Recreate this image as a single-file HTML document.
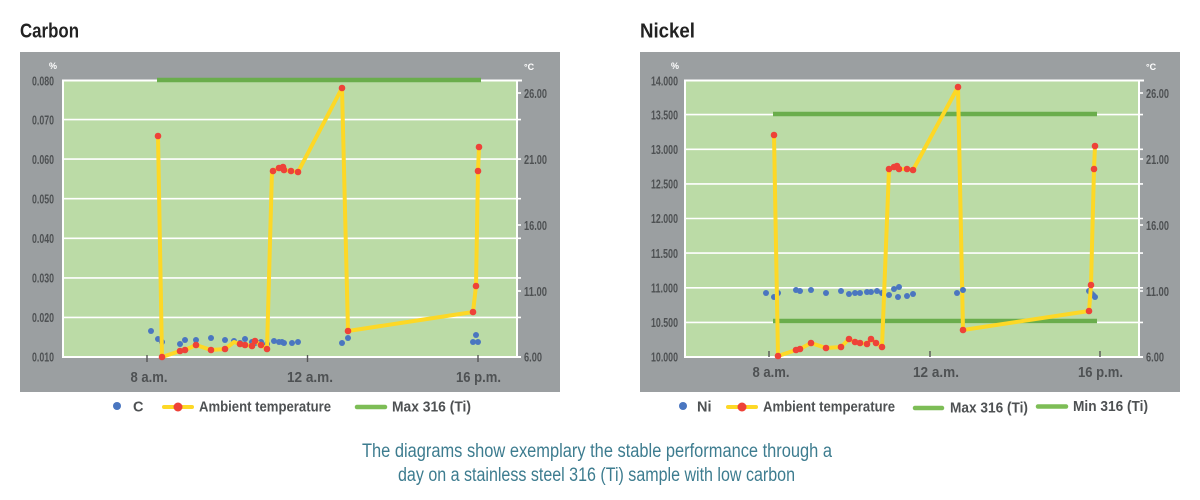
<!DOCTYPE html>
<html><head><meta charset="utf-8"><style>
html,body{margin:0;padding:0;background:#fff;}
svg{display:block;}
text{font-family:"Liberation Sans Narrow","Liberation Sans",sans-serif;font-weight:bold;}
</style></head><body>
<svg width="1200" height="500" viewBox="0 0 1200 500" xmlns="http://www.w3.org/2000/svg">
<rect width="1200" height="500" fill="#fff"/>

<!-- ============ LEFT: CARBON ============ -->
<text x="20" y="37.5" font-size="20" fill="#222" textLength="59" lengthAdjust="spacingAndGlyphs">Carbon</text>
<rect x="20" y="52" width="540" height="340" fill="#9b9fa1"/>
<rect x="63" y="80" width="453" height="277" fill="#bbdba6"/>
<g stroke="#fff" stroke-width="1.6">
<line x1="63" y1="317.4" x2="521" y2="317.4"/>
<line x1="63" y1="277.9" x2="521" y2="277.9"/>
<line x1="63" y1="238.3" x2="521" y2="238.3"/>
<line x1="63" y1="198.7" x2="521" y2="198.7"/>
<line x1="63" y1="159.1" x2="521" y2="159.1"/>
<line x1="63" y1="119.6" x2="521" y2="119.6"/>
<line x1="516" y1="93" x2="521" y2="93"/>
<line x1="516" y1="225" x2="521" y2="225"/>
<line x1="516" y1="291" x2="521" y2="291"/>
</g>
<g stroke="#fff" stroke-width="2" fill="none">
<polyline points="63,357 63,80.5 522,80.5"/>
<line x1="62" y1="357" x2="521" y2="357"/>
<line x1="517" y1="80" x2="517" y2="358"/>
</g>
<g stroke="#555" stroke-width="1.4">
<line x1="147" y1="355" x2="147" y2="362"/>
<line x1="307.5" y1="355" x2="307.5" y2="362"/>
<line x1="478" y1="355" x2="478" y2="362"/>
</g>
<line x1="157" y1="80" x2="481" y2="80" stroke="#6aad4c" stroke-width="4.5"/>
<g font-size="12.5" fill="#4e5153">
<text x="32" y="85.5" textLength="22" lengthAdjust="spacingAndGlyphs">0.080</text>
<text x="32" y="124.5" textLength="22" lengthAdjust="spacingAndGlyphs">0.070</text>
<text x="32" y="164" textLength="22" lengthAdjust="spacingAndGlyphs">0.060</text>
<text x="32" y="203.5" textLength="22" lengthAdjust="spacingAndGlyphs">0.050</text>
<text x="32" y="243" textLength="22" lengthAdjust="spacingAndGlyphs">0.040</text>
<text x="32" y="282.5" textLength="22" lengthAdjust="spacingAndGlyphs">0.030</text>
<text x="32" y="322" textLength="22" lengthAdjust="spacingAndGlyphs">0.020</text>
<text x="32" y="361.5" textLength="22" lengthAdjust="spacingAndGlyphs">0.010</text>
</g>
<g font-size="12.5" fill="#4e5153">
<text x="524" y="98" textLength="23" lengthAdjust="spacingAndGlyphs">26.00</text>
<text x="524" y="164" textLength="23" lengthAdjust="spacingAndGlyphs">21.00</text>
<text x="524" y="230" textLength="23" lengthAdjust="spacingAndGlyphs">16.00</text>
<text x="524" y="296" textLength="23" lengthAdjust="spacingAndGlyphs">11.00</text>
<text x="524" y="361.5" textLength="18" lengthAdjust="spacingAndGlyphs">6.00</text>
</g>
<text x="49" y="69" font-size="9" fill="#fff">%</text>
<text x="524" y="70" font-size="9" fill="#fff">°C</text>
<g font-size="14.5" fill="#4e5153">
<text x="130.5" y="382" textLength="37" lengthAdjust="spacingAndGlyphs">8 a.m.</text>
<text x="287" y="382" textLength="46" lengthAdjust="spacingAndGlyphs">12 a.m.</text>
<text x="456" y="382" textLength="45" lengthAdjust="spacingAndGlyphs">16 p.m.</text>
</g>
<g fill="#4a76c0">
<circle cx="151" cy="331" r="3"/><circle cx="158" cy="339" r="3"/><circle cx="162" cy="342" r="3"/>
<circle cx="180" cy="344" r="3"/><circle cx="185" cy="340" r="3"/><circle cx="196" cy="340" r="3"/>
<circle cx="211" cy="338" r="3"/><circle cx="225" cy="340" r="3"/><circle cx="234" cy="341" r="3"/>
<circle cx="240" cy="343" r="3"/><circle cx="245" cy="339" r="3"/><circle cx="252" cy="342" r="3"/>
<circle cx="253" cy="343" r="3"/><circle cx="255" cy="343" r="3"/><circle cx="261" cy="342" r="3"/>
<circle cx="267" cy="344" r="3"/><circle cx="274" cy="341" r="3"/><circle cx="279" cy="342" r="3"/>
<circle cx="282" cy="342" r="3"/><circle cx="284" cy="343" r="3"/><circle cx="292" cy="343" r="3"/>
<circle cx="298" cy="342" r="3"/><circle cx="342" cy="343" r="3"/><circle cx="348" cy="338" r="3"/>
<circle cx="473" cy="342" r="3"/><circle cx="476" cy="335" r="3"/><circle cx="478" cy="342" r="3"/>
</g>
<polyline fill="none" stroke="#fdd826" stroke-width="4" stroke-linejoin="round" points="158,136 162,357 180,351 185,350 196,345 211,350 225,349 234,342 240,344 245,345 252,346 255,341 261,345 267,349 272,171 277,169 281,168 284,170 291,171 298,172 342,88 348,331 473,312 476,286 478,171 479,147"/>
<g fill="#ee4238">
<circle cx="158" cy="136" r="3.3"/><circle cx="162" cy="357" r="3.3"/><circle cx="180" cy="351" r="3.3"/>
<circle cx="185" cy="350" r="3.3"/><circle cx="196" cy="345" r="3.3"/><circle cx="211" cy="350" r="3.3"/>
<circle cx="225" cy="349" r="3.3"/><circle cx="240" cy="344" r="3.3"/><circle cx="245" cy="345" r="3.3"/>
<circle cx="252" cy="346" r="3.3"/><circle cx="255" cy="341" r="3.3"/><circle cx="261" cy="345" r="3.3"/>
<circle cx="267" cy="349" r="3.3"/><circle cx="273" cy="171" r="3.3"/><circle cx="279" cy="168" r="3.3"/>
<circle cx="283" cy="167" r="3.3"/><circle cx="284" cy="170" r="3.3"/><circle cx="291" cy="171" r="3.3"/>
<circle cx="298" cy="172" r="3.3"/><circle cx="342" cy="88" r="3.3"/><circle cx="348" cy="331" r="3.3"/>
<circle cx="473" cy="312" r="3.3"/><circle cx="476" cy="286" r="3.3"/><circle cx="478" cy="171" r="3.3"/>
<circle cx="479" cy="147" r="3.3"/>
</g>
<!-- legend left -->
<circle cx="117" cy="406" r="4" fill="#4a76c0"/>
<text x="133" y="411.5" font-size="14.5" fill="#4e5153">C</text>
<line x1="164" y1="407" x2="192" y2="407" stroke="#fdd826" stroke-width="4" stroke-linecap="round"/>
<circle cx="178" cy="407" r="4.5" fill="#ee4238"/>
<text x="199" y="411.5" font-size="14.5" fill="#4e5153" textLength="132" lengthAdjust="spacingAndGlyphs">Ambient temperature</text>
<line x1="357" y1="407" x2="385" y2="407" stroke="#7dbd56" stroke-width="4.5" stroke-linecap="round"/>
<text x="392" y="411.5" font-size="14.5" fill="#4e5153" textLength="79" lengthAdjust="spacingAndGlyphs">Max 316 (Ti)</text>

<!-- ============ RIGHT: NICKEL ============ -->
<text x="640" y="37.5" font-size="20" fill="#222" textLength="55" lengthAdjust="spacingAndGlyphs">Nickel</text>
<rect x="640" y="52" width="540" height="340" fill="#9b9fa1"/>
<rect x="685" y="80" width="453" height="277" fill="#bbdba6"/>
<g stroke="#fff" stroke-width="1.6">
<line x1="685" y1="322.4" x2="1143" y2="322.4"/>
<line x1="685" y1="287.8" x2="1143" y2="287.8"/>
<line x1="685" y1="253.1" x2="1143" y2="253.1"/>
<line x1="685" y1="218.5" x2="1143" y2="218.5"/>
<line x1="685" y1="183.9" x2="1143" y2="183.9"/>
<line x1="685" y1="149.3" x2="1143" y2="149.3"/>
<line x1="685" y1="114.6" x2="1143" y2="114.6"/>
<line x1="1138" y1="93" x2="1143" y2="93"/>
<line x1="1138" y1="159" x2="1143" y2="159"/>
<line x1="1138" y1="225" x2="1143" y2="225"/>
<line x1="1138" y1="291" x2="1143" y2="291"/>
</g>
<g stroke="#fff" stroke-width="2" fill="none">
<polyline points="685,357 685,80.5 1144,80.5"/>
<line x1="684" y1="357" x2="1143" y2="357"/>
<line x1="1139" y1="80" x2="1139" y2="358"/>
</g>
<g stroke="#555" stroke-width="1.4">
<line x1="769" y1="351" x2="769" y2="357"/>
<line x1="930" y1="351" x2="930" y2="357"/>
<line x1="1100" y1="351" x2="1100" y2="357"/>
</g>
<line x1="773" y1="114" x2="1097" y2="114" stroke="#6aad4c" stroke-width="4.5"/>
<line x1="773" y1="321" x2="1097" y2="321" stroke="#6aad4c" stroke-width="4.5"/>
<g font-size="12.5" fill="#4e5153">
<text x="651" y="85.5" textLength="27" lengthAdjust="spacingAndGlyphs">14.000</text>
<text x="651" y="119.5" textLength="27" lengthAdjust="spacingAndGlyphs">13.500</text>
<text x="651" y="154" textLength="27" lengthAdjust="spacingAndGlyphs">13.000</text>
<text x="651" y="188.5" textLength="27" lengthAdjust="spacingAndGlyphs">12.500</text>
<text x="651" y="223" textLength="27" lengthAdjust="spacingAndGlyphs">12.000</text>
<text x="651" y="258" textLength="27" lengthAdjust="spacingAndGlyphs">11.500</text>
<text x="651" y="292.5" textLength="27" lengthAdjust="spacingAndGlyphs">11.000</text>
<text x="651" y="327" textLength="27" lengthAdjust="spacingAndGlyphs">10.500</text>
<text x="651" y="361.5" textLength="27" lengthAdjust="spacingAndGlyphs">10.000</text>
</g>
<g font-size="12.5" fill="#4e5153">
<text x="1146" y="98" textLength="23" lengthAdjust="spacingAndGlyphs">26.00</text>
<text x="1146" y="164" textLength="23" lengthAdjust="spacingAndGlyphs">21.00</text>
<text x="1146" y="230" textLength="23" lengthAdjust="spacingAndGlyphs">16.00</text>
<text x="1146" y="296" textLength="23" lengthAdjust="spacingAndGlyphs">11.00</text>
<text x="1146" y="361.5" textLength="18" lengthAdjust="spacingAndGlyphs">6.00</text>
</g>
<text x="671" y="69" font-size="9" fill="#fff">%</text>
<text x="1146" y="70" font-size="9" fill="#fff">°C</text>
<g font-size="14.5" fill="#4e5153">
<text x="752.5" y="377" textLength="37" lengthAdjust="spacingAndGlyphs">8 a.m.</text>
<text x="913" y="377" textLength="46" lengthAdjust="spacingAndGlyphs">12 a.m.</text>
<text x="1078" y="377" textLength="45" lengthAdjust="spacingAndGlyphs">16 p.m.</text>
</g>
<g fill="#4a76c0">
<circle cx="766" cy="293" r="3"/><circle cx="774" cy="297" r="3"/><circle cx="778" cy="293" r="3"/>
<circle cx="796" cy="290" r="3"/><circle cx="800" cy="291" r="3"/><circle cx="811" cy="290" r="3"/>
<circle cx="826" cy="293" r="3"/><circle cx="841" cy="291" r="3"/><circle cx="849" cy="294" r="3"/>
<circle cx="855" cy="293" r="3"/><circle cx="860" cy="293" r="3"/><circle cx="867" cy="292" r="3"/>
<circle cx="871" cy="292" r="3"/><circle cx="877" cy="291" r="3"/><circle cx="882" cy="293" r="3"/>
<circle cx="889" cy="295" r="3"/><circle cx="894" cy="289" r="3"/><circle cx="899" cy="287" r="3"/>
<circle cx="898" cy="297" r="3"/><circle cx="907" cy="296" r="3"/><circle cx="913" cy="294" r="3"/>
<circle cx="957" cy="293" r="3"/><circle cx="1089" cy="291" r="3"/>
<circle cx="1091" cy="293" r="3"/><circle cx="1093" cy="295" r="3"/><circle cx="1095" cy="297" r="3"/>
</g>
<polyline fill="none" stroke="#fdd826" stroke-width="4" stroke-linejoin="round" points="774,135 778,356 796,350 800,349 811,343 826,348 841,347 849,339 855,342 860,343 867,344 871,339 876,343 882,347 889,169 894,167 897,166 899,169 907,169 913,170 958,87 963,330 1089,311 1091,285 1094,169 1095,146"/>
<circle cx="963" cy="290" r="3" fill="#4a76c0"/>
<g fill="#ee4238">
<circle cx="774" cy="135" r="3.3"/><circle cx="778" cy="356" r="3.3"/><circle cx="796" cy="350" r="3.3"/>
<circle cx="800" cy="349" r="3.3"/><circle cx="811" cy="343" r="3.3"/><circle cx="826" cy="348" r="3.3"/>
<circle cx="841" cy="347" r="3.3"/><circle cx="849" cy="339" r="3.3"/><circle cx="855" cy="342" r="3.3"/>
<circle cx="860" cy="343" r="3.3"/><circle cx="867" cy="344" r="3.3"/><circle cx="871" cy="339" r="3.3"/>
<circle cx="876" cy="343" r="3.3"/><circle cx="882" cy="347" r="3.3"/><circle cx="889" cy="169" r="3.3"/>
<circle cx="894" cy="167" r="3.3"/><circle cx="897" cy="166" r="3.3"/><circle cx="899" cy="169" r="3.3"/>
<circle cx="907" cy="169" r="3.3"/><circle cx="913" cy="170" r="3.3"/><circle cx="958" cy="87" r="3.3"/>
<circle cx="963" cy="330" r="3.3"/><circle cx="1089" cy="311" r="3.3"/><circle cx="1091" cy="285" r="3.3"/>
<circle cx="1094" cy="169" r="3.3"/><circle cx="1095" cy="146" r="3.3"/>
</g>
<!-- legend right -->
<circle cx="683" cy="406" r="4" fill="#4a76c0"/>
<text x="697" y="411.5" font-size="14.5" fill="#4e5153">Ni</text>
<line x1="728" y1="407" x2="756" y2="407" stroke="#fdd826" stroke-width="4" stroke-linecap="round"/>
<circle cx="742" cy="407" r="4.5" fill="#ee4238"/>
<text x="763" y="411.5" font-size="14.5" fill="#4e5153" textLength="132" lengthAdjust="spacingAndGlyphs">Ambient temperature</text>
<line x1="915" y1="408" x2="942" y2="408" stroke="#7dbd56" stroke-width="4.5" stroke-linecap="round"/>
<text x="950" y="412.5" font-size="14.5" fill="#4e5153" textLength="78" lengthAdjust="spacingAndGlyphs">Max 316 (Ti)</text>
<line x1="1038" y1="406.5" x2="1066" y2="406.5" stroke="#7dbd56" stroke-width="4.5" stroke-linecap="round"/>
<text x="1073" y="411" font-size="14.5" fill="#4e5153" textLength="75" lengthAdjust="spacingAndGlyphs">Min 316 (Ti)</text>

<!-- caption -->
<g font-size="19" fill="#3d7c8f">
<text x="362" y="457" style="font-weight:normal" textLength="470" lengthAdjust="spacingAndGlyphs">The diagrams show exemplary the stable performance through a</text>
<text x="398" y="481" style="font-weight:normal" textLength="397" lengthAdjust="spacingAndGlyphs">day on a stainless steel 316 (Ti) sample with low carbon</text>
</g>
</svg>
</body></html>
